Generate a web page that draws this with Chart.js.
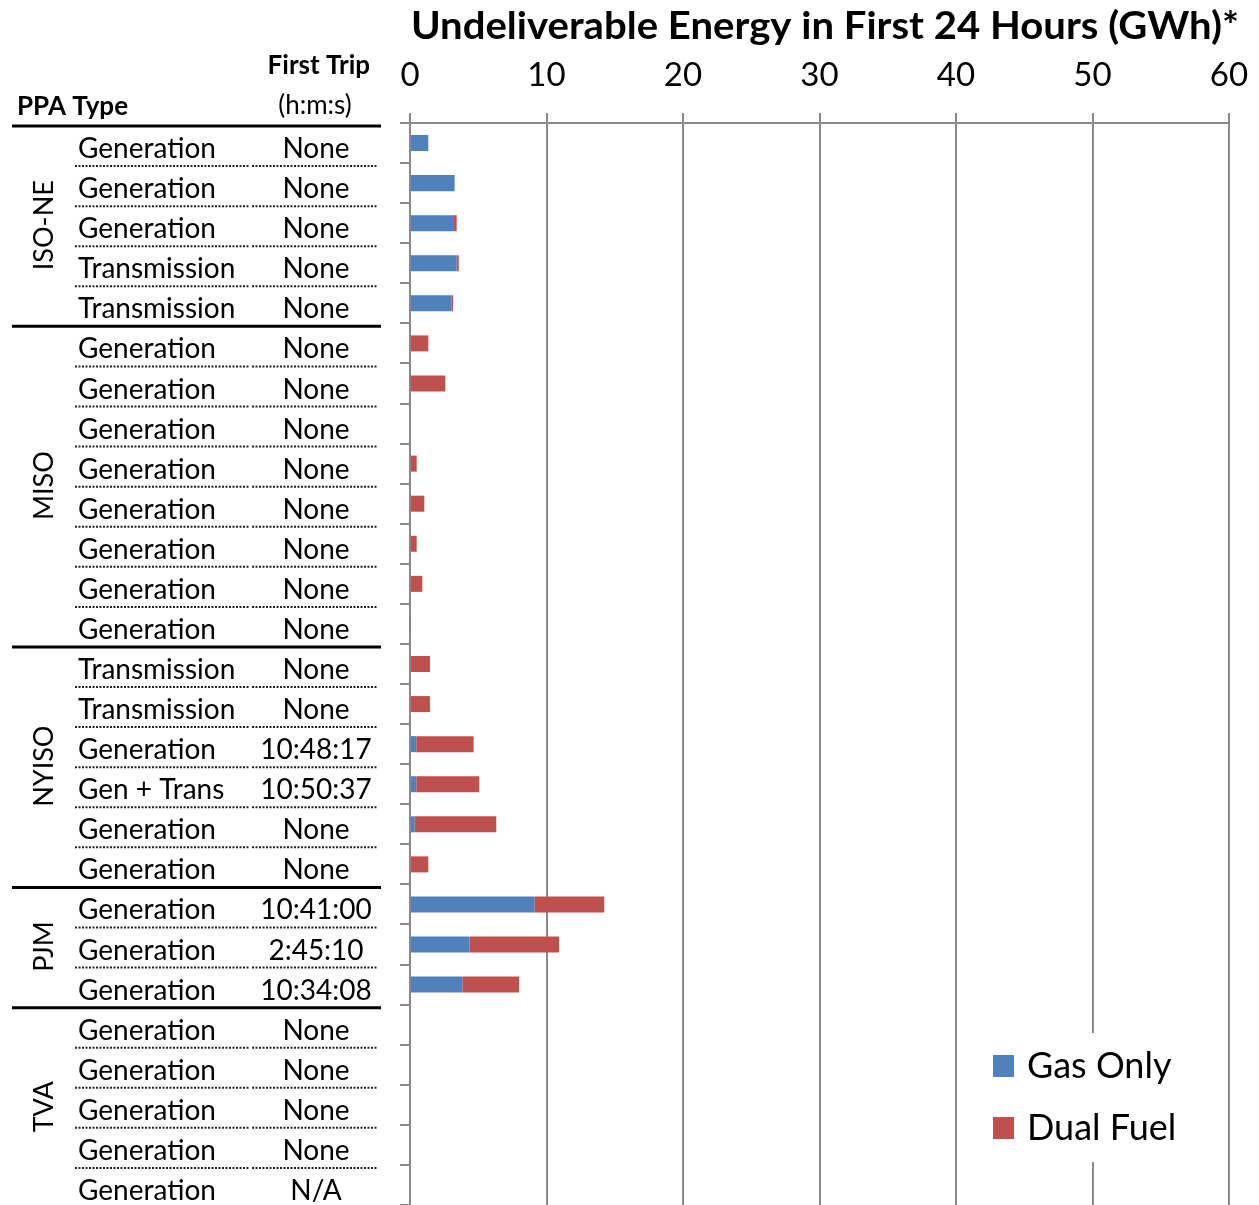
<!DOCTYPE html>
<html>
<head>
<meta charset="utf-8">
<script src="https://cdn.jsdelivr.net/npm/chart.js@4.4.0/dist/chart.umd.min.js"></script>
<style>
    html, body { margin: 0; padding: 0; background: #fff; }
    #wrap { width: 1259px; height: 1205px; position: relative; }
</style>
</head>
<body>
<div id="wrap"><canvas id="energyChart" width="1259" height="1205"></canvas></div>
<script>
// Chart data
const groups = ['ISO-NE', 'MISO', 'NYISO', 'PJM', 'TVA'];
const groupSizes = [5, 8, 6, 3, 5];
const ppaTypes = [
    'Generation', 'Generation', 'Generation', 'Transmission', 'Transmission',
    'Generation', 'Generation', 'Generation', 'Generation', 'Generation', 'Generation', 'Generation', 'Generation',
    'Transmission', 'Transmission', 'Generation', 'Gen + Trans', 'Generation', 'Generation',
    'Generation', 'Generation', 'Generation',
    'Generation', 'Generation', 'Generation', 'Generation', 'Generation'
];
const firstTrip = [
    'None', 'None', 'None', 'None', 'None',
    'None', 'None', 'None', 'None', 'None', 'None', 'None', 'None',
    'None', 'None', '10:48:17', '10:50:37', 'None', 'None',
    '10:41:00', '2:45:10', '10:34:08',
    'None', 'None', 'None', 'None', 'N/A'
];
const gasOnly = [
    1.34, 3.27, 3.22, 3.42, 3.03,
    0, 0.05, 0, 0, 0, 0, 0, 0,
    0, 0, 0.46, 0.46, 0.34, 0,
    9.11, 4.37, 3.83,
    0, 0, 0, 0, 0
];
const dualFuel = [
    0, 0, 0.2, 0.15, 0.12,
    1.34, 2.54, 0, 0.49, 1.05, 0.49, 0.9, 0.05,
    1.46, 1.46, 4.2, 4.62, 5.98, 1.34,
    5.12, 6.55, 4.16,
    0, 0, 0, 0, 0
];
const xTicks = [0, 10, 20, 30, 40, 50, 60];
const chartTitle = 'Undeliverable Energy in First 24 Hours (GWh)*';

const FONT = 'Lato, "Open Sans", sans-serif';
const BLUE = '#4F81BD';
const RED = '#C0504D';
const GRID = '#898989';

// Draws the left-hand table, the title and the legend
const tablePlugin = {
    id: 'tablePlugin',
    afterDraw(chart) {
        const ctx = chart.ctx;
        const y = chart.scales.y;
        const area = chart.chartArea;
        const rowH = (area.bottom - area.top) / ppaTypes.length;
        ctx.save();

        // title
        ctx.fillStyle = '#000';
        ctx.font = 'bold 38px ' + FONT;
        ctx.textBaseline = 'middle';
        ctx.textAlign = 'left';
        const tw = ctx.measureText(chartTitle).width;
        const target = 828;
        ctx.save();
        ctx.translate(411, 27);
        ctx.scale(target / tw, 1);
        ctx.fillText(chartTitle, 0, 0);
        ctx.restore();

        // headers
        ctx.font = 'bold 26px ' + FONT;
        ctx.textAlign = 'left';
        ctx.fillText('PPA Type', 17, 107);
        ctx.textAlign = 'right';
        ctx.fillText('First Trip', 370, 66);
        ctx.font = '26px ' + FONT;
        ctx.textAlign = 'center';
        ctx.fillText('(h:m:s)', 315, 106);

        // rows
        ctx.font = '28px ' + FONT;
        ppaTypes.forEach((t, i) => {
            const cy = y.getPixelForValue(i) + 6;
            ctx.textAlign = 'left';
            ctx.fillText(t, 78, cy);
            ctx.textAlign = 'center';
            ctx.fillText(firstTrip[i], 316, cy);
        });

        // separators
        let start = 0;
        const boundaries = [0];
        groupSizes.forEach(n => { start += n; boundaries.push(start); });
        ctx.strokeStyle = '#000';
        ctx.lineWidth = 3;
        boundaries.slice(0, -1).forEach(b => {
            const ly = area.top + b * rowH + 3;
            ctx.beginPath();
            ctx.moveTo(12, ly);
            ctx.lineTo(381, ly);
            ctx.stroke();
        });
        ctx.lineWidth = 2;
        ctx.setLineDash([2, 1.5]);
        ctx.strokeStyle = '#222';
        for (let i = 1; i < ppaTypes.length; i++) {
            if (boundaries.includes(i)) continue;
            const ly = area.top + i * rowH + 3;
            ctx.beginPath();
            ctx.moveTo(75, ly);
            ctx.lineTo(249, ly);
            ctx.moveTo(252, ly);
            ctx.lineTo(378, ly);
            ctx.stroke();
        }
        ctx.setLineDash([]);

        // group labels
        ctx.font = '27px ' + FONT;
        ctx.textAlign = 'center';
        ctx.textBaseline = 'middle';
        groups.forEach((g, k) => {
            const cy = area.top + (boundaries[k] + boundaries[k + 1]) / 2 * rowH + 2;
            ctx.save();
            ctx.translate(44, cy);
            ctx.rotate(-Math.PI / 2);
            ctx.fillText(g, 0, 0);
            ctx.restore();
        });

        // legend
        ctx.fillStyle = '#fff';
        ctx.fillRect(978, 1033, 222, 129);
        const items = [['Gas Only', BLUE, 1066], ['Dual Fuel', RED, 1128]];
        ctx.font = '36px ' + FONT;
        ctx.textAlign = 'left';
        items.forEach(([label, color, ly]) => {
            ctx.fillStyle = color;
            ctx.fillRect(993, ly - 11, 21, 22);
            ctx.fillStyle = '#000';
            ctx.fillText(label, 1027, ly);
        });
        ctx.restore();
    }
};

const ctx = document.getElementById('energyChart').getContext('2d');
const energyChart = new Chart(ctx, {
    type: 'bar',
    data: {
        labels: ppaTypes.map((t, i) => i),
        datasets: [
            {
                label: 'Gas Only',
                data: gasOnly,
                backgroundColor: BLUE,
                borderWidth: 0,
                barPercentage: 0.4,
                categoryPercentage: 1
            },
            {
                label: 'Dual Fuel',
                data: dualFuel,
                backgroundColor: RED,
                borderWidth: 0,
                barPercentage: 0.4,
                categoryPercentage: 1
            }
        ]
    },
    options: {
        indexAxis: 'y',
        responsive: false,
        animation: false,
        layout: {
            padding: { left: 400, right: 30, top: 0, bottom: 0 }
        },
        plugins: {
            legend: { display: false },
            tooltip: { enabled: false },
            title: { display: false }
        },
        scales: {
            x: {
                position: 'top',
                stacked: true,
                min: 0,
                max: 60,
                afterBuildTicks: function(scale) {
                    scale.ticks = xTicks.map(v => ({ value: v }));
                },
                afterFit: function(scale) {
                    scale.height = 123;
                    scale.paddingRight = 0;
                },
                ticks: {
                    color: '#000',
                    font: { family: FONT, size: 33 },
                    padding: 18,
                    maxRotation: 0
                },
                grid: {
                    color: GRID,
                    lineWidth: 2,
                    tickLength: 10
                },
                border: { color: GRID, width: 2 }
            },
            y: {
                stacked: true,
                afterFit: function(scale) {
                    scale.width = 10;
                },
                ticks: { display: false },
                grid: {
                    color: GRID,
                    lineWidth: 2,
                    tickLength: 10,
                    drawOnChartArea: false,
                    offset: true
                },
                border: { color: GRID, width: 2 }
            }
        }
    },
    plugins: [tablePlugin]
});
</script>
</body>
</html>
